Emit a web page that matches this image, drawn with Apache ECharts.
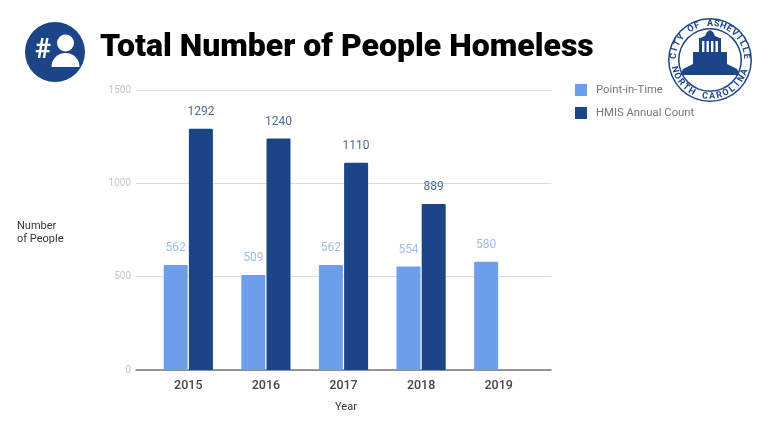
<!DOCTYPE html>
<html><head><meta charset="utf-8">
<script src="https://cdn.jsdelivr.net/npm/echarts@6/dist/echarts.min.js"></script>
<style>html,body{margin:0;padding:0;background:#fff}#c{width:768px;height:432px}</style>
</head><body><div id="c"></div>
<script>
const years = ['2015','2016','2017','2018','2019'];
const pointInTime = [562,509,562,554,580];
const hmisCount = [1292,1240,1110,889,null];
const titleText = 'Total Number of People Homeless';
const sealTop = 'CITY OF ASHEVILLE';
const sealBottom = 'NORTH CAROLINA';
const yTicks = {min:0,max:1500,interval:500};
const LIGHT='#6d9eeb', DARK='#1c4587';
const font='Roboto';

const lx=710, ly=60;
function sealChar(ch,deg,bottom){
  const a=deg*Math.PI/180;
  return {type:'text',z:20,x:lx+36.5*Math.sin(a),y:ly-36.5*Math.cos(a),rotation:bottom?Math.PI-a:-a,
    style:{text:ch,fill:DARK,font:'bold 9px '+font,align:'center',verticalAlign:'middle'}};
}
const logo=[
 {type:'circle',z:10,shape:{cx:lx,cy:ly,r:42},style:{fill:DARK}},
 {type:'circle',z:11,shape:{cx:lx,cy:ly,r:40.5},style:{fill:'#fff'}},
 {type:'circle',z:12,shape:{cx:lx,cy:ly,r:32},style:{fill:DARK}},
 {type:'circle',z:13,shape:{cx:lx,cy:ly,r:30.5},style:{fill:'#fff'}},
 {type:'polygon',z:14,shape:{points:[[680,75],[740,75],[737,69],[727,64],[727,52],[693,52],[693,64],[683,69]]},style:{fill:DARK}},
 {type:'rect',z:14,shape:{x:699,y:38,width:22,height:15},style:{fill:DARK}},
 {type:'polygon',z:14,shape:{points:[[698,39],[705,36],[707,32],[710,30],[713,32],[715,36],[722,39]]},style:{fill:DARK}},
 ...[702,706.5,711,715.5].map(x=>({type:'rect',z:15,shape:{x:x,y:41,width:2.4,height:11},style:{fill:'#fff'}})),
 ...[...sealTop].map((ch,i)=>sealChar(ch,-84+i*10.5,false)),
 ...[...sealBottom].map((ch,i)=>sealChar(ch,255-i*11.2,true))
];
const icon=[
 {type:'circle',z:10,shape:{cx:55,cy:52,r:30},style:{fill:DARK}},
 {type:'circle',z:11,shape:{cx:65.5,cy:43,r:8.5},style:{fill:'#fff'}},
 {type:'sector',z:11,shape:{cx:65.5,cy:67,r0:0,r:14,startAngle:Math.PI,endAngle:2*Math.PI},style:{fill:'#fff'}},
 {type:'text',z:11,x:43,y:51,style:{text:'#',fill:'#fff',font:'bold 27px '+font,align:'center',verticalAlign:'middle'}}
];
const chart=echarts.init(document.getElementById('c'),null,{renderer:'canvas'});
chart.setOption({
 animation:false,backgroundColor:'#fff',
 textStyle:{fontFamily:font},
 title:{text:titleText,left:100,top:32,padding:0,textStyle:{fontFamily:font,fontWeight:900,fontSize:32,color:'#000'}},
 legend:{orient:'vertical',left:575,top:84,itemWidth:12,itemHeight:12,itemGap:11,padding:0,icon:'rect',
   textStyle:{color:'#757575',fontSize:11.3,fontFamily:font,padding:[0,0,0,4]},
   data:['Point-in-Time','HMIS Annual Count']},
 grid:[{left:136,top:90,width:415,height:280},{left:149.5,top:90,width:388,height:280}],
 xAxis:[
  {gridIndex:0,type:'category',data:[''],axisTick:{show:false},axisLabel:{show:false},
    axisLine:{show:true,lineStyle:{color:'#777',width:1.5}}},
  {gridIndex:1,type:'category',data:years,axisTick:{show:false},axisLine:{show:false},
    axisLabel:{color:'#444',fontSize:12.5,fontWeight:500,margin:9,fontFamily:font}}
 ],
 yAxis:[
  {gridIndex:0,type:'value',...yTicks,axisLine:{show:false},axisTick:{show:false},
    axisLabel:{color:'#c4c4c4',fontSize:10,margin:5,fontFamily:font,formatter:v=>String(v)},splitLine:{lineStyle:{color:'#dcdcdc',width:1}}},
  {gridIndex:1,type:'value',...yTicks,show:false,splitLine:{show:false}}
 ],
 series:[
  {name:'Point-in-Time',type:'bar',xAxisIndex:1,yAxisIndex:1,data:pointInTime,barWidth:24,barGap:'5%',
   itemStyle:{color:LIGHT,borderRadius:[1,1,0,0]},
   label:{show:true,position:'top',distance:11,color:'#9dbdee',fontSize:12,fontFamily:font}},
  {name:'HMIS Annual Count',type:'bar',xAxisIndex:1,yAxisIndex:1,data:hmisCount,barWidth:24,
   itemStyle:{color:DARK,borderRadius:[1,1,0,0]},
   label:{show:true,position:'top',distance:11,color:'#4a6aa3',fontSize:12,fontWeight:400,fontFamily:font}}
 ],
 graphic:[
  ...icon,...logo,
  {type:'text',x:17,y:226,style:{text:'Number',fill:'#333',font:'11px '+font,verticalAlign:'middle'}},
  {type:'text',x:17,y:239,style:{text:'of People',fill:'#333',font:'11px '+font,verticalAlign:'middle'}},
  {type:'text',x:346,y:407,style:{text:'Year',fill:'#333',font:'11px '+font,align:'center',verticalAlign:'middle'}}
 ]
});
</script></body></html>
